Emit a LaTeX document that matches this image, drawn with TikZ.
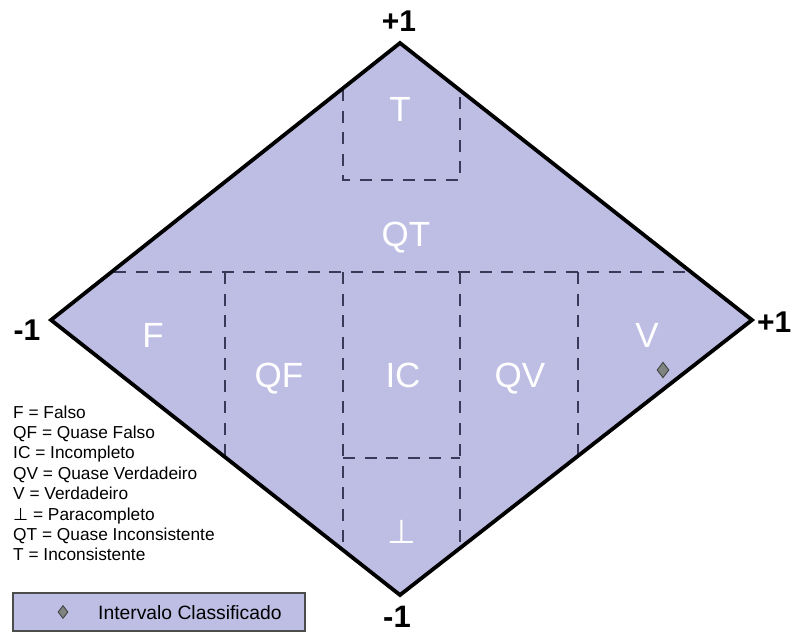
\documentclass[tikz,border=0pt]{standalone}
\usepackage{fontspec}
\setmainfont{Liberation Sans}
\newfontfamily\symfont{DejaVu Sans}
\usetikzlibrary{shapes.geometric}
\definecolor{lav}{RGB}{190,190,229}
\definecolor{dashc}{RGB}{58,58,88}
\definecolor{markc}{RGB}{128,132,128}
\tikzset{
  divider/.style={draw=dashc, line width=1.8pt, dash pattern=on 12pt off 9.5pt},
  region/.style={text=white, font=\fontsize{35}{40}\selectfont, anchor=base, inner sep=0pt},
  corner/.style={text=black, font=\fontsize{30}{34}\selectfont\bfseries, anchor=base, inner sep=0pt},
  legtext/.style={text=black, font=\fontsize{17.3}{20}\selectfont, anchor=base west, inner sep=0pt},
  marker/.style={diamond, draw=black!75, fill=markc, line width=0.9pt, inner sep=0pt, minimum width=#1, minimum height=1.3*#1},
}
\begin{document}
\begin{tikzpicture}[x=1pt,y=-1pt]
\useasboundingbox (0,0) rectangle (791,634);
% vertices
\coordinate (top) at (400,43);
\coordinate (right) at (752,320);
\coordinate (bottom) at (400,595);
\coordinate (left) at (51,320);
% main diamond
\fill[lav] (top) -- (right) -- (bottom) -- (left) -- cycle;
% dividers
\coordinate (hl) at (114,272);
\coordinate (hr) at (687,272);
\draw[divider] (hl) -- (hr);
\coordinate (a1) at (225,272); \coordinate (a2) at (225,457);
\coordinate (b1) at (343,272); \coordinate (b2) at (343,550);
\coordinate (c1) at (460,272); \coordinate (c2) at (460,548);
\coordinate (d1) at (578,272); \coordinate (d2) at (578,456);
\draw[divider] (a1) -- (a2);
\draw[divider] (b1) -- (b2);
\draw[divider] (c1) -- (c2);
\draw[divider] (d1) -- (d2);
\coordinate (pb1) at (343,458); \coordinate (pb2) at (460,458);
\draw[divider] (pb1) -- (pb2);
\coordinate (t1) at (343,89); \coordinate (t2) at (343,180);
\coordinate (t3) at (460,180); \coordinate (t4) at (460,91);
\draw[divider] (t1) -- (t2) -- (t3) -- (t4);
% outline
\draw[black, line width=3.8pt, line join=miter] (top) -- (right) -- (bottom) -- (left) -- cycle;
% region labels
\node[region] (lT) at (400,121) {T};
\node[region] (lQT) at (406,246) {QT};
\node[region] (lF) at (153,347) {F};
\node[region] (lQF) at (279,387) {QF};
\node[region] (lIC) at (403,387) {IC};
\node[region] (lQV) at (520,387) {QV};
\node[region] (lV) at (647,347) {V};
\node[region, font=\fontsize{33}{38}\selectfont\symfont] (lP) at (402,543) {⊥};
% corner labels
\node[corner] (ctop) at (399,32) {+1};
\node[corner] (cleft) at (27,340) {-1};
\node[corner, anchor=base west] (cright) at (757,332) {+1};
\node[corner, font=\fontsize{31}{34}\selectfont\bfseries] (cbottom) at (397,627) {-1};
% classified interval marker
\node[marker=12pt] (pt) at (663,370) {};
% legend
\node[legtext] (g1) at (13,418) {F = Falso};
\node[legtext] (g2) at (13,438.4) {QF = Quase Falso};
\node[legtext] (g3) at (13,458.8) {IC = Incompleto};
\node[legtext] (g4) at (13,479.2) {QV = Quase Verdadeiro};
\node[legtext] (g5) at (13,499.6) {V = Verdadeiro};
\node[legtext] (g6) at (13,520) {{\symfont ⊥} = Paracompleto};
\node[legtext] (g7) at (13,540.4) {QT = Quase Inconsistente};
\node[legtext] (g8) at (13,560.8) {T = Inconsistente};
% legend box
\node[draw=black!70, fill=lav, line width=1.2pt, minimum width=292pt, minimum height=38pt, inner sep=0pt] (lbox) at (159,612) {};
\node[marker=10pt] (lmark) at (63,612) {};
\node[legtext, font=\fontsize{19.3}{23}\selectfont] (ltext) at (98,619) {Intervalo Classificado};
\end{tikzpicture}
\end{document}
